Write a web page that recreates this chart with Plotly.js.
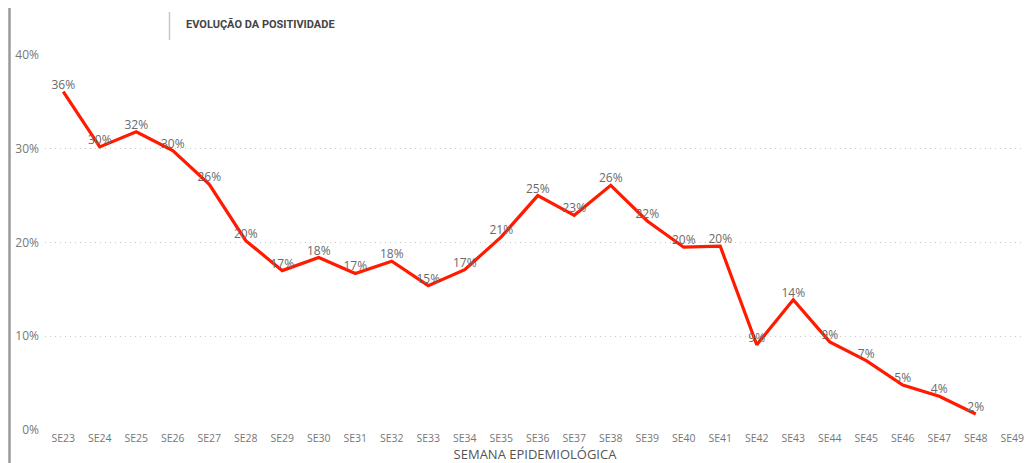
<!DOCTYPE html>
<html>
<head>
<meta charset="utf-8">
<script src="https://cdn.plot.ly/plotly-3.0.1.min.js"></script>
<style>
  html, body { margin: 0; padding: 0; background: #fff; }
  #chart { width: 1025px; height: 463px; }
</style>
</head>
<body>
<div id="chart"></div>
<script>
const weeks = ["SE23","SE24","SE25","SE26","SE27","SE28","SE29","SE30","SE31","SE32","SE33","SE34","SE35","SE36","SE37","SE38","SE39","SE40","SE41","SE42","SE43","SE44","SE45","SE46","SE47","SE48","SE49"];
const positivity = [36.1,30.2,31.8,29.8,26.2,20.2,17.0,18.4,16.7,18.0,15.4,17.1,20.6,25.0,22.9,26.1,22.3,19.5,19.6,9.1,13.9,9.4,7.4,4.8,3.6,1.7,null];
const yTickVals = [0,10,20,30,40];
const yTickText = ["0%","10%","20%","30%","40%"];
const chartTitle = "EVOLUÇÃO DA POSITIVIDADE";
const xTitle = "SEMANA EPIDEMIOLÓGICA";

const labels = positivity.map(v => v === null ? "" : Math.round(v) + "%");

const trace = {
  x: weeks,
  y: positivity,
  type: "scatter",
  mode: "lines+text",
  line: { color: "#FF1A00", width: 3.2 },
  text: labels,
  textposition: "top center",
  textfont: { family: "Open Sans, sans-serif", size: 12, color: "#6a6a6a" },
  hoverinfo: "skip",
  cliponaxis: false
};

const L = 45, W = 1025, R = 0;
const plotW = W - L - R;
const layout = {
  width: 1025,
  height: 463,
  margin: { l: L, r: R, t: 55, b: 33 },
  paper_bgcolor: "#fff",
  plot_bgcolor: "#fff",
  showlegend: false,
  font: { family: "Open Sans, sans-serif", color: "#777" },
  xaxis: {
    type: "category",
    range: [-0.5, -0.5 + plotW / 36.5],
    showgrid: false,
    zeroline: false,
    showline: false,
    ticks: "",
    tickfont: { size: 10.5, color: "#777" },
    title: { text: xTitle, font: { size: 13, color: "#555" }, standoff: 6 },
    fixedrange: true
  },
  yaxis: {
    range: [0, 40],
    tickvals: yTickVals,
    ticktext: yTickText,
    showgrid: true,
    gridcolor: "#c8c8c8",
    griddash: "1px,4px",
    gridwidth: 1,
    zeroline: false,
    showline: false,
    ticks: "",
    ticklabelstandoff: 5,
    tickfont: { size: 12, color: "#777" },
    fixedrange: true
  },
  shapes: [
    { type: "line", xref: "paper", yref: "paper",
      x0: (9.5 - L) / plotW, x1: (9.5 - L) / plotW,
      y0: (463 - 33 - 8) / 375, y1: -33 / 375,
      line: { color: "#9a9a9a", width: 2.5 } },
    { type: "line", xref: "paper", yref: "paper",
      x0: (169.5 - L) / plotW, x1: (169.5 - L) / plotW,
      y0: (463 - 33 - 12) / 375, y1: (463 - 33 - 40) / 375,
      line: { color: "#c8c8c8", width: 1.5 } }
  ],
  annotations: [
    { xref: "paper", yref: "paper",
      x: (184 - L) / plotW, y: (463 - 33 - 24) / 375,
      xanchor: "left", yanchor: "middle",
      text: "<b>" + chartTitle + "</b>",
      showarrow: false,
      font: { family: "Roboto, sans-serif", size: 11, color: "#444" } }
  ]
};

Plotly.newPlot("chart", [trace], layout, { displayModeBar: false, staticPlot: true });
</script>
</body>
</html>
